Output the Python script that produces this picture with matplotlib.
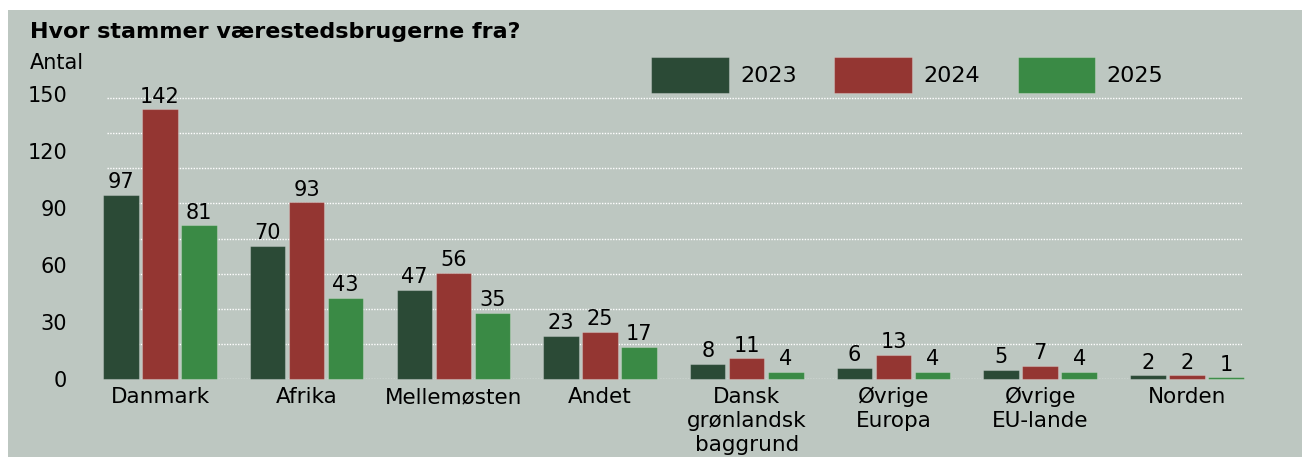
import numpy as np
import matplotlib.pyplot as plt
from matplotlib.patches import Rectangle

categories = ['Danmark', 'Afrika', 'Mellemøsten', 'Andet',
              'Dansk\ngrønlandsk\nbaggrund', 'Øvrige\nEuropa', 'Øvrige\nEU-lande', 'Norden']
years = ['2023', '2024', '2025']
vals_2023 = [97, 70, 47, 23, 8, 6, 5, 2]
vals_2024 = [142, 93, 56, 25, 11, 13, 7, 2]
vals_2025 = [81, 43, 35, 17, 4, 4, 4, 1]
yticks = [0, 30, 60, 90, 120, 150]

colors = ['#2b4a36', '#943632', '#3a8a45']
BG = '#bdc7c1'

fig = plt.figure(figsize=(13.02, 4.57), dpi=100, facecolor='white')
fig.add_artist(Rectangle((8 / 1302, 0), 1, (457 - 10) / 457,
                         transform=fig.transFigure, facecolor=BG, edgecolor='none', zorder=-10))

ax = fig.add_axes([107 / 1302, (457 - 379.3) / 457, 1135 / 1302, 285.2 / 457])
ax.set_facecolor('none')

x = np.arange(len(categories))
w = 0.242
step = 0.266
series = [vals_2023, vals_2024, vals_2025]
handles = []
for i, (vals, c, yr) in enumerate(zip(series, colors, years)):
    bars = ax.bar(x + (i - 1) * step, vals, width=w, color=c, label=yr,
                  edgecolor=(1, 1, 1, 0.25), linewidth=0.8, zorder=3, clip_on=False)
    ax.bar_label(bars, labels=[str(v) for v in vals], padding=2, fontsize=15, color='black')
    handles.append(bars)

# dotted gridlines (spaced independently of the tick labels, as in the original)
for g in np.arange(0, 150, 18.5):
    ax.axhline(g, color='white', linestyle=(0, (1, 1)), linewidth=1.0, zorder=1)

ax.set_xlim(-0.361, 7.376)
ax.set_ylim(0, 150)
ax.set_yticks(yticks)
ax.set_yticklabels([str(t) for t in yticks], fontsize=15)
ax.set_xticks(x)
ax.set_xticklabels(categories, fontsize=15.5, linespacing=1.25)
ax.tick_params(axis='y', length=0, pad=28.8)
ax.tick_params(axis='x', length=0, pad=5.5)
for s in ax.spines.values():
    s.set_visible(False)

fig.text(30 / 1302, 1 - 32 / 457, 'Hvor stammer værestedsbrugerne fra?',
         fontsize=16, fontweight='bold', va='center', ha='left')
fig.text(30 / 1302, 1 - 63 / 457, 'Antal', fontsize=15, va='center', ha='left')

fig.legend(handles=handles, labels=years, loc='center left',
           bbox_to_anchor=(651 / 1302, 1 - 75 / 457), ncol=3, frameon=False,
           fontsize=16, handlelength=3.5, handleheight=2.1, handletextpad=0.5,
           columnspacing=1.7, borderpad=0, borderaxespad=0)

fig.savefig('out.png', dpi=100, facecolor='white')
